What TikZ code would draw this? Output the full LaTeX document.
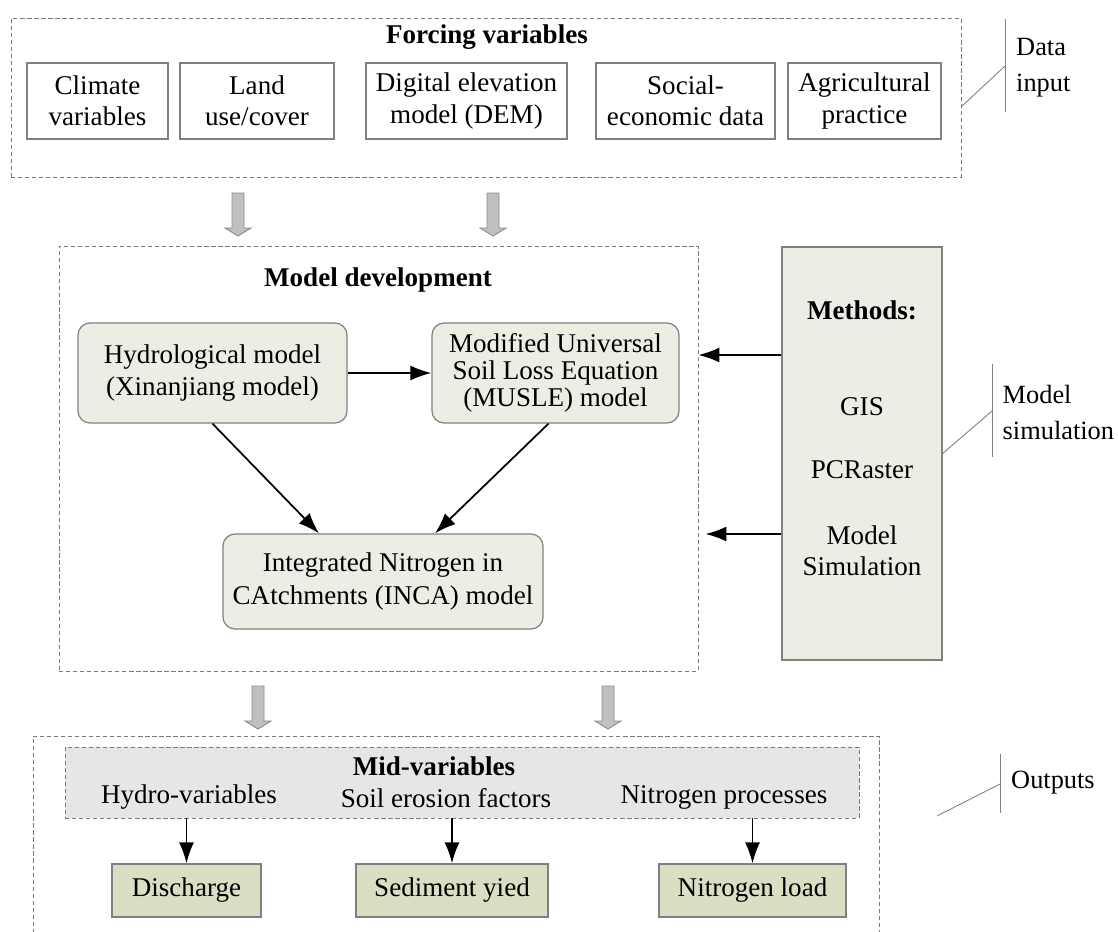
\documentclass[tikz,border=0pt]{standalone}
\usepackage{fontspec}
\setmainfont{Liberation Serif}
\usetikzlibrary{arrows.meta}
\definecolor{boxline}{HTML}{808080}
\definecolor{framegray}{HTML}{7A7A7A}
\definecolor{modelfill}{HTML}{EDEDE3}
\definecolor{outfill}{HTML}{D8DFC3}
\definecolor{midfill}{HTML}{E6E6E6}
\definecolor{fatfill}{HTML}{C0C0C0}
\definecolor{fatline}{HTML}{8A8A8A}
\tikzset{
  dashframe/.style={draw=framegray, line width=0.5pt, dash pattern=on 2.4pt off 1.6pt, inner sep=0pt},
  inbox/.style={draw=boxline, line width=0.7pt, align=center, inner sep=0pt, minimum height=1.52cm},
  modelbox/.style={draw=boxline, fill=modelfill, line width=0.7pt, rounded corners=0.24cm, align=center, inner sep=0pt},
  outbox/.style={draw=boxline, fill=outfill, line width=0.7pt, inner sep=0pt, minimum height=1.06cm},
  link/.style={->, >={Latex[length=0.42cm,width=0.3cm]}, line width=1pt},
  callout/.style={draw=gray, line width=0.5pt},
  sidetext/.style={anchor=west, align=left, inner sep=0.5pt, font=\fontsize{15}{20.5}\selectfont},
  graydown/.pic={
    \draw[fill=fatfill, draw=fatline, line width=0.5pt] (-0.12,0) -- (-0.12,-0.7) -- (-0.26,-0.7)
      -- (0,-0.86) -- (0.26,-0.7) -- (0.12,-0.7) -- (0.12,0) -- cycle;
  }
}
\begin{document}
\begin{tikzpicture}[font=\fontsize{15.4}{17.8}\selectfont]
\useasboundingbox (0,0) rectangle (22.36,-18.64);
% data input
\node[dashframe, minimum width=19cm, minimum height=3.18cm] (forcing) at (9.72,-1.95) {};
\node (ftitle) at (9.74,-0.74) {\textbf{Forcing variables}};
\node[inbox, minimum width=2.82cm] (clim) at (1.95,-2.02) {Climate\\variables};
\node[inbox, minimum width=3.08cm] (land) at (5.14,-2.02) {Land\\use/cover};
\node[inbox, minimum width=4.02cm] (dem) at (9.33,-2.02) {Digital elevation\\model (DEM)};
\node[inbox, minimum width=3.58cm] (soc) at (13.71,-2.02) {Social-\\economic data};
\node[inbox, minimum width=3.06cm] (agri) at (17.29,-2.02) {Agricultural\\practice};
\coordinate (din) at (20.1,-1.32);
\draw[callout] (19.22,-2.14) -- (din);
\draw[callout] (20.1,-0.38) -- (20.1,-2.24);
\node[sidetext] (dinput) at (20.3,-1.36) {Data\\input};
\pic at (4.76,-3.86) {graydown};
\pic at (9.86,-3.86) {graydown};
% model development
\node[dashframe, minimum width=12.78cm, minimum height=8.5cm] (dev) at (7.57,-9.17) {};
\node (dtitle) at (7.56,-5.6) {\textbf{Model development}};
\node[modelbox, minimum width=5.38cm, minimum height=2cm, font=\fontsize{15.4}{18.4}\selectfont] (hydro) at (4.25,-7.46) {Hydrological model\\(Xinanjiang model)};
\node[modelbox, minimum width=4.94cm, minimum height=2cm, font=\fontsize{15.4}{15.2}\selectfont] (musle) at (11.11,-7.46) {Modified Universal\\Soil Loss Equation\\(MUSLE) model};
\node[modelbox, minimum width=6.4cm, minimum height=1.9cm, font=\fontsize{15.4}{18.8}\selectfont] (inca) at (7.66,-11.63) {Integrated Nitrogen in\\CAtchments (INCA) model};
\draw[link] (hydro) -- (musle);
\draw[link] (hydro.south) -- ([xshift=-1.28cm]inca.north);
\draw[link] ([xshift=-0.14cm]musle.south) -- ([xshift=1.04cm]inca.north);
% methods
\node[draw=boxline, fill=modelfill, line width=0.7pt, minimum width=3.2cm, minimum height=8.26cm] (methods) at (17.24,-9.07) {};
\node (mtitle) at (17.24,-6.2) {\textbf{Methods:}};
\node (gis) at (17.24,-8.14) {GIS};
\node (pcr) at (17.24,-9.4) {PCRaster};
\node[align=center] (msim) at (17.24,-11.02) {Model\\Simulation};
\coordinate (m1) at (0,-7.1);
\coordinate (m2) at (0,-10.68);
\draw[link] (methods.west |- m1) -- (dev.east |- m1);
\draw[link] (methods.west |- m2) -- ([xshift=0.14cm]dev.east |- m2);
\coordinate (msc) at (19.84,-8.22);
\draw[callout] (methods.east) -- (msc);
\draw[callout] (19.84,-7.28) -- (19.84,-9.14);
\node[sidetext] (msimlab) at (20.03,-8.24) {Model\\simulation};
\pic at (5.16,-13.72) {graydown};
\pic at (12.16,-13.72) {graydown};
% outputs
\draw[dashframe] (0.66,-18.8) |- (17.58,-14.72) -- (17.58,-18.8);
\node[dashframe, fill=midfill, minimum width=15.88cm, minimum height=1.42cm] (mid) at (9.24,-15.65) {};
\node (midtitle) at (8.68,-15.32) {\textbf{Mid-variables}};
\node (hvar) at (3.78,-15.94) {Hydro-variables};
\node (svar) at (8.92,-15.96) {Soil erosion factors};
\node (nvar) at (14.48,-15.94) {Nitrogen processes};
\node[outbox, minimum width=2.98cm] (dis) at (3.73,-17.81) {Discharge};
\node[outbox, minimum width=3.84cm] (sed) at (9.04,-17.81) {Sediment yied};
\node[outbox, minimum width=3.74cm] (nload) at (15.05,-17.81) {Nitrogen load};
\draw[link] (mid.south -| dis.north) -- (dis.north);
\draw[link] (mid.south -| sed.north) -- (sed.north);
\draw[link] (mid.south -| nload.north) -- (nload.north);
\coordinate (oc) at (20.0,-15.68);
\draw[callout] (18.74,-16.32) -- (oc);
\draw[callout] (20.0,-15.08) -- (20.0,-16.26);
\node[sidetext] (outlab) at (20.2,-15.66) {Outputs};
\end{tikzpicture}
\end{document}
